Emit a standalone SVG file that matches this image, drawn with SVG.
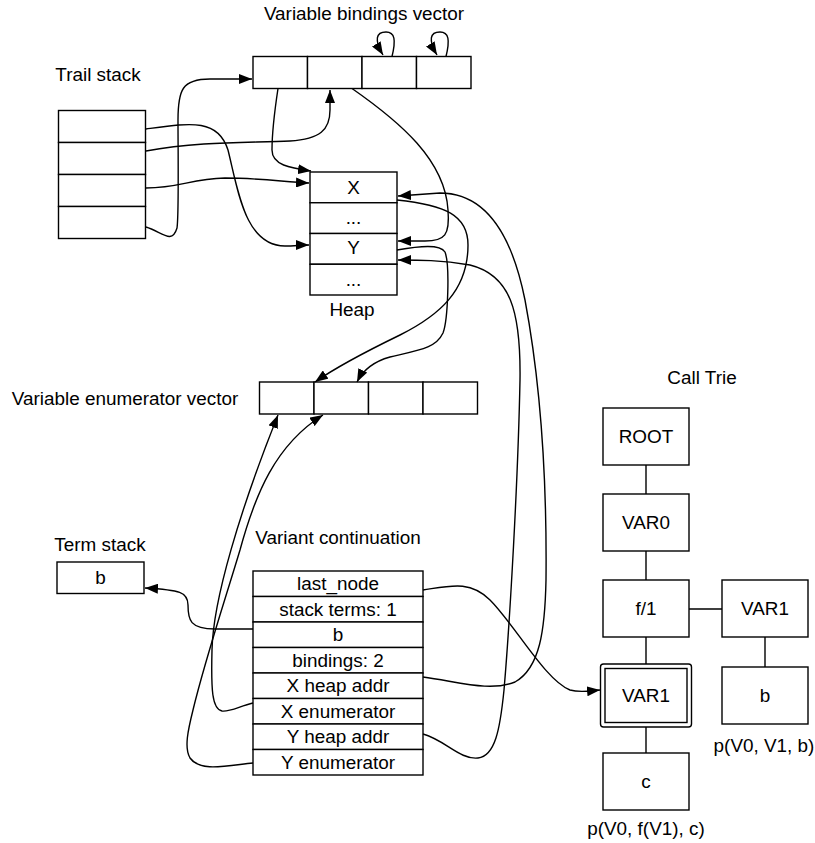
<svg xmlns="http://www.w3.org/2000/svg" width="815" height="843" viewBox="0 0 815 843">
<style>
.box{fill:#fff;stroke:#000;stroke-width:1.4}
.t{font-family:"Liberation Sans",Arial,Helvetica,sans-serif;font-size:18.9px;fill:#000;text-anchor:middle}
.c{fill:none;stroke:#000;stroke-width:1.4}
.a{marker-end:url(#arr)}
</style>
<defs>
<marker id="arr" viewBox="0 0 13 10" refX="13" refY="5" markerWidth="13" markerHeight="10" markerUnits="userSpaceOnUse" orient="auto">
<path d="M0,0 L13,5 L0,10 z" fill="#000"/>
</marker>
</defs>
<rect width="815" height="843" fill="#fff"/>

<g id="bindings-vector">
<text class="t" x="364" y="20">Variable bindings vector</text>
<rect class="box" x="253" y="56.5" width="54.5" height="32"/>
<rect class="box" x="307.5" y="56.5" width="54.5" height="32"/>
<rect class="box" x="362" y="56.5" width="54.5" height="32"/>
<rect class="box" x="416.5" y="56.5" width="54.5" height="32"/>
</g>

<g id="trail-stack">
<text class="t" x="98" y="81">Trail stack</text>
<rect class="box" x="58.5" y="110.5" width="87" height="32"/>
<rect class="box" x="58.5" y="142.5" width="87" height="32"/>
<rect class="box" x="58.5" y="174.5" width="87" height="32"/>
<rect class="box" x="58.5" y="206.5" width="87" height="32"/>
</g>

<g id="heap">
<rect class="box" x="310" y="172" width="87" height="30.75"/>
<rect class="box" x="310" y="202.75" width="87" height="30.75"/>
<rect class="box" x="310" y="233.5" width="87" height="30.75"/>
<rect class="box" x="310" y="264.25" width="87" height="30.75"/>
<text class="t" x="353.5" y="193.5">X</text>
<text class="t" x="353.5" y="223.5">...</text>
<text class="t" x="353.5" y="254">Y</text>
<text class="t" x="353.5" y="285.5">...</text>
<text class="t" x="352" y="316">Heap</text>
</g>

<g id="enumerator-vector">
<text class="t" x="125" y="405">Variable enumerator vector</text>
<rect class="box" x="259.5" y="382" width="54.5" height="32"/>
<rect class="box" x="314" y="382" width="54.5" height="32"/>
<rect class="box" x="368.5" y="382" width="54.5" height="32"/>
<rect class="box" x="423" y="382" width="54.5" height="32"/>
</g>

<g id="term-stack">
<text class="t" x="100" y="551">Term stack</text>
<rect class="box" x="57" y="562" width="87" height="31.5"/>
<text class="t" x="100.5" y="584">b</text>
</g>

<g id="variant-continuation">
<text class="t" x="338" y="544">Variant continuation</text>
<rect class="box" x="253" y="571" width="170" height="25.5"/>
<rect class="box" x="253" y="596.5" width="170" height="25.5"/>
<rect class="box" x="253" y="622" width="170" height="25.5"/>
<rect class="box" x="253" y="647.5" width="170" height="25.5"/>
<rect class="box" x="253" y="673" width="170" height="25.5"/>
<rect class="box" x="253" y="698.5" width="170" height="25.5"/>
<rect class="box" x="253" y="724" width="170" height="25.5"/>
<rect class="box" x="253" y="749.5" width="170" height="25.5"/>
<text class="t" x="338" y="590.3">last_node</text>
<text class="t" x="338" y="615.8">stack terms: 1</text>
<text class="t" x="338" y="641.3">b</text>
<text class="t" x="338" y="666.8">bindings: 2</text>
<text class="t" x="338" y="692.3">X heap addr</text>
<text class="t" x="338" y="717.8">X enumerator</text>
<text class="t" x="338" y="743.3">Y heap addr</text>
<text class="t" x="338" y="768.8">Y enumerator</text>
</g>

<g id="call-trie-label"><text class="t" x="702" y="384">Call Trie</text></g>
<g id="trie-root"><rect class="box" x="603" y="408" width="86" height="57"/><text class="t" x="646" y="443">ROOT</text></g>
<g id="trie-var0"><rect class="box" x="603" y="494" width="86" height="57"/><text class="t" x="646" y="529">VAR0</text></g>
<g id="trie-f1"><rect class="box" x="603" y="580" width="86" height="57"/><text class="t" x="646" y="615">f/1</text></g>
<g id="trie-var1-current"><rect class="box" x="600.5" y="664" width="91" height="63" rx="3"/><rect class="box" x="605" y="668.5" width="82" height="54"/><text class="t" x="646" y="702">VAR1</text></g>
<g id="trie-c"><rect class="box" x="603" y="753" width="86" height="57"/><text class="t" x="646" y="788">c</text><text class="t" x="646" y="835">p(V0, f(V1), c)</text></g>
<g id="trie-var1-right"><rect class="box" x="722" y="580" width="86" height="57"/><text class="t" x="765" y="615">VAR1</text></g>
<g id="trie-b"><rect class="box" x="722" y="667" width="86" height="57"/><text class="t" x="765" y="702">b</text><text class="t" x="764" y="752">p(V0, V1, b)</text></g>

<g id="connectors">
<path class="c a" d="M392,56.5 C396,40 395,32 386,32 C376,32 374,40 383,55"/>
<path class="c a" d="M446,56.5 C450,40 449,32 440,32 C430,32 428,40 437,55"/>
<path class="c a" d="M146,129 C190,123 218,118 228,150 C238,190 245,246 285,246 C295,246 300,245 309,245"/>
<path class="c a" d="M146,151 C200,141 250,143 290,141 C320,139 330,130 330,110 L330,90"/>
<path class="c a" d="M146,188 C180,188 190,179 225,178 C260,178 285,182 309,183"/>
<path class="c a" d="M146,227 C162,232 172,245 177,228 C179,215 178,150 178,120 C178,90 182,79 210,79 L252,79"/>
<path class="c a" d="M278,88.5 C274,115 272,135 272,150 C272,165 290,168 311,171"/>
<path class="c a" d="M352,88.5 C400,122 445,160 448,210 C450,235 445,241 425,241 L398,241"/>
<path class="c a" d="M397,200 C445,205 468,215 468,245 C468,290 440,315 400,335 C365,352 335,368 315,382"/>
<path class="c a" d="M397,250 C420,246 440,244 445,252 C450,265 448,320 443,333 C436,348 420,350 390,357 C372,362 362,372 357,382"/>
<path class="c a" d="M423,590 C450,586 470,580 490,600 C515,625 545,680 570,690 C580,693 590,691 600,690"/>
<path class="c a" d="M253,629 L215,629 C190,629 188,620 188,605 C188,592 180,590 145,588"/>
<path class="c a" d="M423,677 C460,682 490,692 515,682 C540,668 545,630 546,580 C547,480 540,380 525,300 C510,225 480,193 440,193 L398,196"/>
<path class="c a" d="M423,734 C445,740 460,760 478,758 C495,756 500,730 504,690 C510,620 518,480 520,380 C521,310 510,275 470,265 C440,260 420,260 398,260"/>
<path class="c a" d="M253,703 C240,706 230,712 222,711 C212,709 211,690 212,650 C213,600 240,510 278,415"/>
<path class="c a" d="M253,763 C225,766 200,772 190,758 C184,748 188,730 193,710 C205,660 225,600 240,550 C255,495 275,445 323,415"/>
<path class="c" d="M646,465 V494 M646,551 V580 M646,637 V664 M646,727 V753 M689,609 H722 M765,637 V667"/>
</g>
</svg>
